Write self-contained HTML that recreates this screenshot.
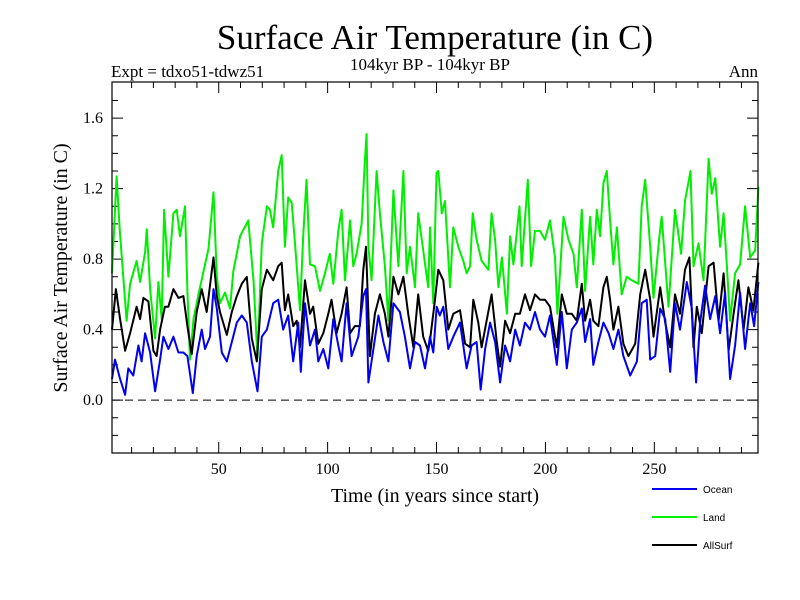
<!DOCTYPE html>
<html><head><meta charset="utf-8"><style>
html,body{margin:0;padding:0;background:#fff;}
svg{display:block;font-family:"Liberation Serif",serif;}
</style></head><body>
<svg id="chart" width="800" height="600" viewBox="0 0 800 600" xmlns="http://www.w3.org/2000/svg">
<rect width="800" height="600" fill="#fff"/>
<text x="435" y="49" font-size="35" text-anchor="middle">Surface Air Temperature (in C)</text>
<text x="111" y="77" font-size="17">Expt = tdxo51-tdwz51</text>
<text x="430" y="70" font-size="17" text-anchor="middle">104kyr BP - 104kyr BP</text>
<text x="758" y="77" font-size="17" text-anchor="end">Ann</text>
<text transform="translate(67,268) rotate(-90)" font-size="20" text-anchor="middle">Surface Air Temperature (in C)</text>
<text x="435" y="502" font-size="20" text-anchor="middle">Time (in years since start)</text>
<g id="ticks"></g>
<g id="series"></g>
<rect x="112" y="82" width="646" height="371" fill="none" stroke="#000" stroke-width="1.2"/>
<g id="legend" font-family="Liberation Sans, sans-serif" font-size="10"></g>
</svg>
<script>
const xTicks=[50,100,150,200,250];
const yTicks=[0.0,0.4,0.8,1.2,1.6];
const seriesNames=["Ocean","Land","AllSurf"];
const landYears=[1,3.1,4.6,7.7,9.3,12.3,13.9,16.2,17,18.5,20.8,22.3,23.8,24.9,26.9,29.2,30.7,32.2,34.5,35.6,36.8,38.4,40.7,43,45.3,47.6,49.1,50.6,52.9,55.2,56.7,59.8,63.6,66,67.8,69.8,72.1,73.5,75,77.3,78.9,80.4,81.9,83.5,85,87.3,88.8,90.3,91.9,94.2,96.5,98.8,101,102.6,104.9,106.4,108,110.3,111.8,113.3,115.6,117.1,117.9,118.7,120.2,122.5,124,126.3,127.9,130.2,132.5,134.8,136.3,137.8,140.1,141.6,143.9,146.2,147,148.5,150,150.8,152.4,153.9,156.2,157.7,160,162.3,163.8,165.4,166.6,168.4,170.7,173.8,175.3,176.9,178.4,180,182.3,183.8,185.3,188.1,189.1,191.9,193.4,195.2,197.5,199.8,202.1,204.4,205.5,208.3,210.6,212.9,214.4,216.7,218.2,220.5,222,223.6,225.1,226.6,228.2,229.7,231.2,232.8,235,237.3,239.6,242.7,244.2,245.8,248.1,249.6,252.4,253.4,256.5,259.5,262.3,264.1,266.6,268,270.3,272.6,274.9,276.4,278,280.2,281.8,283.3,284.8,287.1,289.4,291.7,294,296.3,297.8];
const landVals=[0.72,1.27,0.96,0.45,0.66,0.79,0.67,0.84,0.97,0.63,0.35,0.67,0.46,1.08,0.70,1.06,1.08,0.93,1.10,0.62,0.23,0.46,0.60,0.73,0.86,1.18,0.70,0.55,0.61,0.52,0.73,0.93,1.02,0.67,0.24,0.89,1.10,1.08,0.98,1.30,1.39,0.87,1.15,1.12,0.89,0.51,0.93,1.25,0.77,0.76,0.62,0.72,0.83,0.66,0.96,1.08,0.68,1.02,0.76,0.83,1.00,1.36,1.51,0.87,0.68,1.30,1.06,0.76,0.45,1.19,0.76,1.30,0.72,0.87,0.64,1.06,0.85,0.64,0.98,0.55,1.29,1.30,1.06,1.13,0.64,0.98,0.87,0.79,0.72,0.76,1.06,0.91,0.79,0.74,1.06,0.91,0.64,0.81,0.49,0.93,0.77,1.10,0.76,1.25,0.76,0.96,0.96,0.91,1.02,0.81,0.49,1.04,0.91,0.83,0.64,1.08,0.62,1.04,0.77,1.08,0.93,1.23,1.30,1.02,0.77,0.98,0.60,0.70,0.68,0.66,1.10,1.25,0.87,0.58,0.94,1.04,0.53,1.08,0.83,1.13,1.30,0.76,0.89,0.68,1.37,1.17,1.26,0.87,1.06,0.76,0.45,0.72,0.77,1.10,0.81,0.85,1.21];
const allYears=[1,2.8,4.7,7,9.3,12.3,13.9,15.4,17.7,20,21.5,23.1,25.3,26.9,29.2,31.5,33.8,35.6,37.6,39.9,42.2,44.5,47.6,49.1,50.6,53.7,56,58.3,60.6,62.9,65.2,67.5,69.8,72.1,75,77.3,78.9,80.4,81.9,84.2,85.8,87.3,89.6,91.9,93.4,95.7,98,100.3,101.8,104.1,106.4,108.7,110.3,112.5,114.8,116.4,117.6,119.4,121.7,124,126.3,127.9,130.2,132.5,134.8,137,139.4,141.6,143.9,146.2,147,149.3,150.8,153.1,155.4,157.7,160.8,163.1,165.4,166.9,169.2,170.7,173,175.3,177.6,179.2,181.5,183.8,186.1,188.3,190.6,192.9,195.2,197.5,199.8,202.1,205.2,207.5,209.8,212.1,214.4,216.7,218.2,220.5,222,224.3,226.6,228.2,229.7,231.2,233.5,235.8,238.1,241.2,243.5,245.8,248.1,249.6,252.7,255,257.3,259.5,261.8,264.1,266.1,268,269.5,271.8,274.9,277.2,279.5,281.8,284.1,286.4,288.6,291,293.2,295.5,297.8];
const allVals=[0.40,0.63,0.46,0.28,0.38,0.53,0.46,0.58,0.56,0.28,0.25,0.40,0.53,0.53,0.63,0.58,0.59,0.42,0.26,0.50,0.63,0.50,0.81,0.59,0.50,0.37,0.50,0.59,0.66,0.70,0.35,0.22,0.63,0.74,0.68,0.76,0.78,0.51,0.60,0.42,0.45,0.30,0.68,0.49,0.53,0.32,0.38,0.49,0.57,0.38,0.49,0.64,0.38,0.42,0.42,0.74,0.87,0.25,0.49,0.60,0.49,0.36,0.70,0.60,0.70,0.49,0.30,0.60,0.36,0.28,0.34,0.57,0.74,0.68,0.40,0.49,0.51,0.32,0.30,0.57,0.44,0.30,0.45,0.60,0.34,0.19,0.45,0.38,0.49,0.49,0.60,0.51,0.60,0.57,0.57,0.53,0.30,0.60,0.49,0.49,0.45,0.66,0.45,0.57,0.45,0.42,0.64,0.70,0.57,0.40,0.53,0.32,0.25,0.32,0.60,0.74,0.57,0.36,0.64,0.44,0.30,0.60,0.49,0.74,0.81,0.30,0.53,0.38,0.76,0.78,0.45,0.72,0.28,0.49,0.68,0.40,0.64,0.51,0.78];
const oceanYears=[1,2.4,4.7,7,8.5,10.8,13.1,14.6,16.2,18.5,20.8,23.1,24.6,26.9,29.2,31.5,33.8,35.6,38.1,39.9,42.2,43.7,46,47.6,49.1,51.4,53.7,56,58.3,60.6,62.9,65.2,67.8,69.8,72.1,75,77.3,79.6,81.9,84.2,86.5,87.7,89.6,91.9,94.2,95.7,98,100.3,102.6,104.9,106.4,108.7,111,114.1,116.4,117.6,118.7,121,123.3,125.6,127.9,130.2,133.2,135.5,137.8,140.1,142.4,144.7,147,148.5,150.1,151.5,153.1,155.4,157.7,160.8,163.8,166.1,168.4,170.3,172.3,174.6,176.9,179.2,181.5,183.8,186.1,188.3,190.6,192.9,195.2,197.5,199.8,202.1,205.2,207.5,209.8,212.1,214.4,216.7,218.2,220.5,222,224.3,226.6,229,231.2,233.5,235.8,238.9,242,244.2,246.5,248.1,250.4,252.7,255,257.3,259.5,261.8,264.9,267.2,269.2,271,273.3,275.6,278,280.2,282.5,284.8,287.1,289.4,291.7,294,295.8,297.8];
const oceanVals=[0.12,0.23,0.12,0.03,0.18,0.14,0.31,0.22,0.38,0.27,0.05,0.23,0.36,0.29,0.36,0.27,0.27,0.25,0.04,0.25,0.40,0.29,0.36,0.63,0.52,0.27,0.22,0.33,0.44,0.48,0.44,0.22,0.05,0.36,0.40,0.55,0.57,0.40,0.48,0.22,0.44,0.16,0.55,0.31,0.40,0.22,0.29,0.18,0.46,0.31,0.22,0.55,0.25,0.36,0.59,0.63,0.10,0.29,0.48,0.33,0.22,0.55,0.50,0.36,0.18,0.33,0.31,0.18,0.36,0.27,0.53,0.48,0.53,0.29,0.36,0.44,0.18,0.31,0.33,0.06,0.29,0.44,0.33,0.10,0.31,0.22,0.40,0.31,0.44,0.40,0.50,0.40,0.36,0.48,0.20,0.50,0.18,0.40,0.44,0.52,0.33,0.46,0.20,0.33,0.44,0.38,0.29,0.40,0.25,0.14,0.22,0.55,0.57,0.23,0.25,0.52,0.46,0.16,0.55,0.40,0.67,0.52,0.10,0.44,0.65,0.46,0.59,0.38,0.61,0.12,0.31,0.61,0.29,0.55,0.42,0.67];

const X0=112,X1=758,Y0=82,Y1=453;
const xMin=1,xMax=297.6,yMin=-0.3,yMax=1.805;
const NS="http://www.w3.org/2000/svg";
function xs(t){return X0+(t-xMin)/(xMax-xMin)*(X1-X0);}
function ys(v){return Y1-(v-yMin)/(yMax-yMin)*(Y1-Y0);}
function mk(tag,attrs,parent){const e=document.createElementNS(NS,tag);for(const k in attrs)e.setAttribute(k,attrs[k]);parent.appendChild(e);return e;}
const tg=document.getElementById('ticks');
// minor x ticks every 10 years
for(let t=10;t<=290;t+=10){
  const major=xTicks.indexOf(t)>=0;const L=major?11:6;
  const a=mk('line',{x1:xs(t),x2:xs(t),y1:Y1,y2:Y1-L,stroke:'#000','stroke-width':1},tg);
  
  
  const b=mk('line',{x1:xs(t),x2:xs(t),y1:Y0,y2:Y0+L,stroke:'#000','stroke-width':1},tg);
  
  
}
for(const t of xTicks){
  const l=mk('text',{x:xs(t),y:474,'font-size':16,'text-anchor':'middle'},tg);l.textContent=String(t);
  
  
}
for(let i=-2;i<=17;i++){
  const v=i/10;const major=(i%4===0);const L=major?11:6;
  const a=mk('line',{x1:X0,x2:X0+L,y1:ys(v),y2:ys(v),stroke:'#000','stroke-width':1},tg);
  
  
  const b=mk('line',{x1:X1,x2:X1-L,y1:ys(v),y2:ys(v),stroke:'#000','stroke-width':1},tg);
  
  
}
for(const v of yTicks){
  const l=mk('text',{x:103,y:ys(v)+5,'font-size':16,'text-anchor':'end'},tg);l.textContent=v.toFixed(1);
  
  
}
const sg=document.getElementById('series');
const z=mk('line',{x1:X0,x2:X1,y1:ys(0),y2:ys(0),stroke:'#000','stroke-width':1,'stroke-dasharray':'8,5'},sg);


function path(years,vals,color,name){
  const d=years.map((t,i)=>(i?'L':'M')+xs(t).toFixed(1)+','+ys(vals[i]).toFixed(1)).join('');
  const p=mk('path',{d:d,fill:'none',stroke:color,'stroke-width':2,'stroke-linejoin':'round'},sg);
  
  
}
path(landYears,landVals,'#00ee00','land-line');
path(allYears,allVals,'#000000','allsurf-line');
path(oceanYears,oceanVals,'#0000ee','ocean-line');
const lg=document.getElementById('legend');
const colors=['#0000ee','#00ee00','#000000'];
seriesNames.forEach((n,i)=>{
  const y=489+i*28;
  const ln=mk('line',{x1:652,x2:697,y1:y,y2:y,stroke:colors[i],'stroke-width':2},lg);
  
  
  const tx=mk('text',{x:703,y:y+4},lg);tx.textContent=n;
  
  
});
</script>
</body></html>
